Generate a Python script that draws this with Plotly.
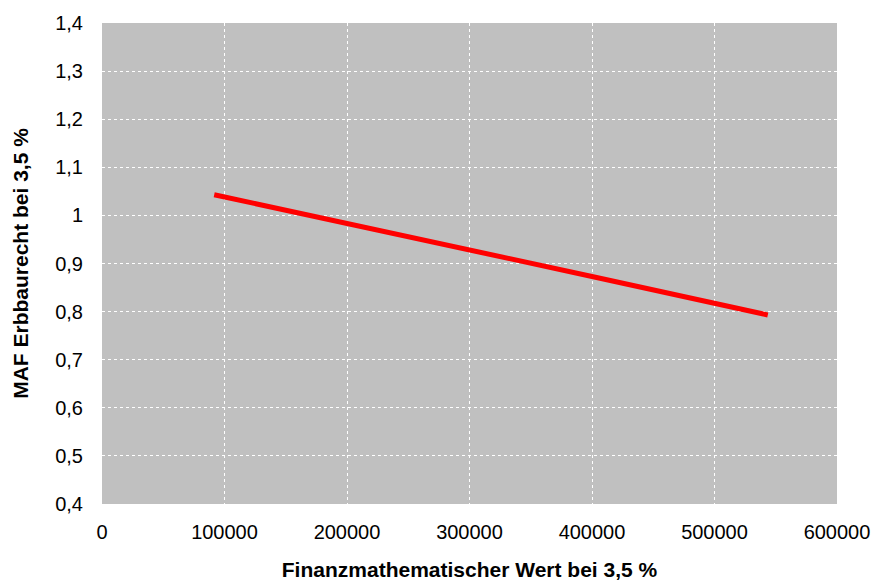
import plotly.graph_objects as go

x_vals = [91600, 200000, 300000, 400000, 543500]
y_vals = [1.043, 0.984, 0.928, 0.873, 0.793]
x_ticks = [0, 100000, 200000, 300000, 400000, 500000, 600000]
y_ticks = [0.4, 0.5, 0.6, 0.7, 0.8, 0.9, 1.0, 1.1, 1.2, 1.3, 1.4]
y_tick_labels = ["0,4", "0,5", "0,6", "0,7", "0,8", "0,9", "1", "1,1", "1,2", "1,3", "1,4"]

fig = go.Figure()
fig.add_trace(go.Scatter(x=x_vals, y=y_vals, mode="lines",
                         line=dict(color="#FF0000", width=5), showlegend=False))

font = "Liberation Sans, Arial, sans-serif"
fig.update_layout(
    width=876, height=582,
    margin=dict(l=102, r=39, t=23, b=78, autoexpand=False),
    paper_bgcolor="white", plot_bgcolor="#C0C0C0",
    font=dict(family=font, size=20, color="black"),
    xaxis=dict(range=[0, 600000], tickvals=x_ticks, ticktext=[str(v) for v in x_ticks],
               showgrid=True, gridcolor="white", griddash="dot", gridwidth=1,
               zeroline=False, showline=False, ticks="", ticklen=0,
               ticklabelstandoff=14, automargin=False, ticklabeloverflow="allow",
               title=dict(text="<b>Finanzmathematischer Wert bei 3,5 %</b>", font=dict(size=21), standoff=20)),
    yaxis=dict(range=[0.4, 1.4], tickvals=y_ticks, ticktext=y_tick_labels,
               showgrid=True, gridcolor="white", griddash="dot", gridwidth=1,
               zeroline=False, showline=False, ticks="", ticklen=0,
               ticklabelstandoff=18, automargin=False, ticklabeloverflow="allow",
               title=dict(text="<b>MAF Erbbaurecht bei 3,5 %</b>", font=dict(size=21), standoff=20)),
)
fig.write_html("out.html", config={"displayModeBar": False},
               post_script="document.body.style.margin='0';document.body.style.overflow='hidden';")
